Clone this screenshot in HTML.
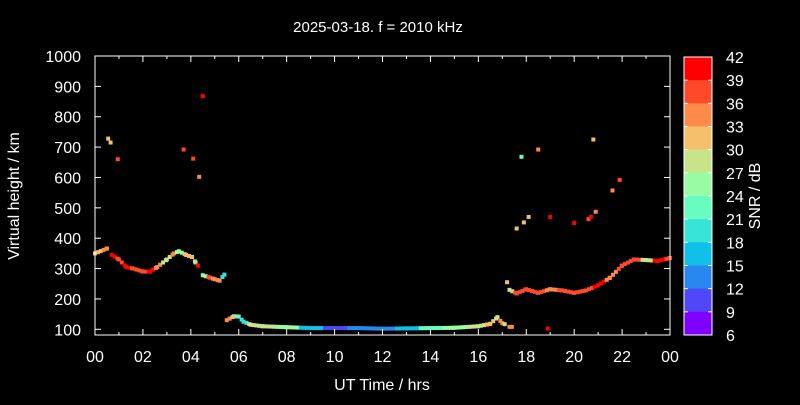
<!DOCTYPE html><html><head><style>body{margin:0;background:#000}svg text{font-family:"Liberation Sans",sans-serif;fill:#fff}</style></head><body>
<svg id="s" width="800" height="400" xmlns="http://www.w3.org/2000/svg">
<rect width="800" height="400" fill="#000"/>
<g id="d"></g>
<rect x="95" y="56" width="575" height="279" fill="none" stroke="#fff" stroke-width="1"/>
<g id="ax" stroke="#fff"></g>
<g id="tx" font-size="16"></g>
<text x="378" y="32" font-size="15" text-anchor="middle">2025-03-18. f = 2010 kHz</text>
<text x="382" y="390" font-size="16" text-anchor="middle">UT Time / hrs</text>
<text transform="translate(19,196) rotate(-90)" font-size="16" text-anchor="middle">Virtual height / km</text>
<text transform="translate(760,196) rotate(-90)" font-size="16" text-anchor="middle">SNR / dB</text>
<g id="cb"></g>
</svg>
<script>
var N='http://www.w3.org/2000/svg';
function el(p,t,a,txt){var e=document.createElementNS(N,t);for(var k in a)e.setAttribute(k,a[k]);if(txt!=null)e.textContent=txt;document.getElementById(p).appendChild(e);return e;}
function X(h){return 95+h*575/24;}function Y(v){return 329.3-(v-100)*273.3/900;}
for(var i=0;i<=12;i++){var x=X(i*2);el('ax','line',{x1:x,y1:335,x2:x,y2:329});el('ax','line',{x1:x,y1:56,x2:x,y2:62});
var l=('0'+((i*2)%24)).slice(-2);el('tx','text',{x:x,y:362,'text-anchor':'middle'},l);}
for(var i=1;i<24;i+=2){var x=X(i);el('ax','line',{x1:x,y1:335,x2:x,y2:332});el('ax','line',{x1:x,y1:56,x2:x,y2:59});}
for(var v=100;v<=1000;v+=100){var y=Y(v);el('ax','line',{x1:95,y1:y,x2:101,y2:y});el('ax','line',{x1:670,y1:y,x2:664,y2:y});el('tx','text',{x:81,y:y+6,'text-anchor':'end'},v);}
var cols=['#ff0000','#ff4a2a','#ff8a4a','#f4c06c','#c8e48a','#98fca2','#68fcc0','#38e4d6','#10c0e6','#2888f0','#5048f8','#8000ff'];
var bh=278/12;
for(var i=0;i<12;i++){el('cb','rect',{x:684,y:57+i*bh,width:28,height:bh+0.5,fill:cols[i]});}
el('cb','rect',{x:684,y:57,width:28,height:278,fill:'none',stroke:'#fff'});
for(var i=0;i<=12;i++){var y=57+i*bh;el('cb','line',{x1:684,y1:y,x2:688,y2:y,stroke:'#fff'});el('cb','line',{x1:712,y1:y,x2:708,y2:y,stroke:'#fff'});el('cb','text',{x:726,y:y+6,'font-size':16},42-3*i);}
function P(h,v,c){el('d','rect',{x:X(h)-2,y:Y(v)-2,width:4,height:4,fill:cols[c]});}
function seg(pts,step){for(var i=0;i<pts.length-1;i++){var a=pts[i],b=pts[i+1];for(var t=a[0];t<b[0]-1e-6;t+=step){var f=(t-a[0])/(b[0]-a[0]);P(t,a[1]+(b[1]-a[1])*f,f<0.5?a[2]:b[2]);}}var z=pts[pts.length-1];P(z[0],z[1],z[2]);}
seg([[0,350,3],[0.5,366,2]],0.12);
seg([[0.7,345,0],[1.0,330,1],[1.3,305,0],[1.6,300,1],[2.0,290,1],[2.3,290,0],[2.6,305,2],[3.0,330,4],[3.3,350,2],[3.5,357,5],[3.8,345,3],[4.05,338,3],[4.2,320,4],[4.3,310,0]],0.12);
seg([[4.5,278,5],[4.8,270,1],[5.0,265,2],[5.2,260,2],[5.4,280,7]],0.12);
seg([[5.5,130,2],[5.8,143,3],[6.0,142,6],[6.2,125,7],[6.5,115,4],[7.0,110,4],[8.0,107,5],[9.0,104,8],[10,104,10],[11,104,9],[12,102,9],[13,103,8],[14,104,6],[15,105,5],[16,110,4],[16.5,118,3],[16.8,140,4],[17.0,120,2],[17.1,117,4]],0.12);
P(17.3,108,2);P(17.4,108,2);
seg([[17.2,255,3],[17.3,230,4],[17.6,218,1],[18.0,232,1],[18.5,220,1],[19.0,232,2],[19.5,228,1],[20.0,220,1],[20.5,228,1],[21.0,245,0],[21.5,270,2],[22.0,310,1],[22.5,330,1],[23.0,328,4],[23.5,325,0],[24,335,1]],0.12);
[[0.55,728,3],[0.65,715,3],[0.95,660,1],[3.7,692,1],[4.1,662,1],[4.35,602,2],[4.5,868,0],[17.6,432,3],[17.8,668,6],[17.9,452,3],[18.1,470,3],[18.5,692,2],[19.0,470,0],[20.0,450,0],[20.6,463,1],[20.7,470,0],[20.8,725,3],[20.9,487,2],[21.6,557,2],[21.9,592,1],[18.9,102,0]].forEach(function(p){P(p[0],p[1],p[2]);});
</script>
</body></html>
